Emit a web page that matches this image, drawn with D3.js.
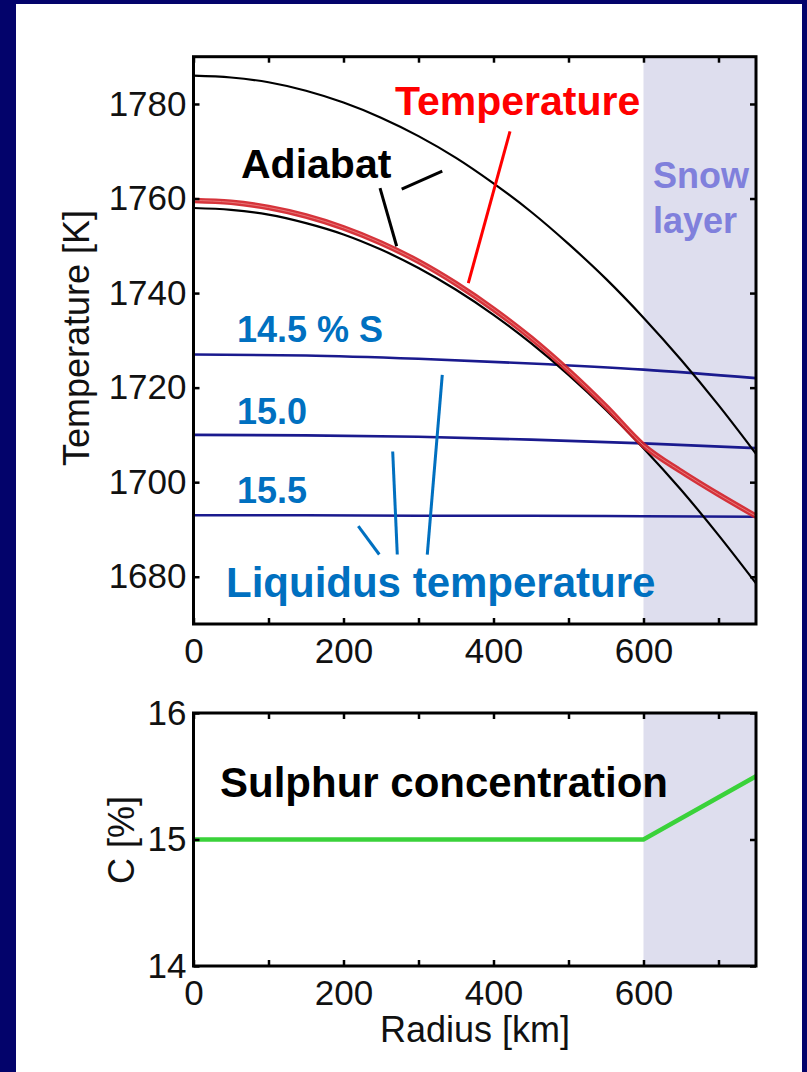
<!DOCTYPE html>
<html>
<head>
<meta charset="utf-8">
<script src="https://cdn.jsdelivr.net/npm/d3@7"></script>
<style>
  html, body { margin: 0; padding: 0; background: #03036b; }
  svg { display: block; }
  text { font-family: "Liberation Sans", Arial, sans-serif; }
</style>
</head>
<body>
<svg id="fig" width="807" height="1072"></svg>
<script>
// Radius samples (km) for the temperature profiles
const radius = [0, 50, 100, 150, 200, 250, 300, 350, 400, 450, 500, 550, 600, 650, 700, 750];
// Adiabat starting hotter in the centre
const adiabatUpper = [1786.0, 1785.6, 1784.6, 1782.8, 1780.3, 1777.1, 1773.2, 1768.6, 1763.2, 1757.2, 1750.4, 1743.0, 1734.8, 1725.9, 1716.3, 1706.0];
// Adiabat through the present core temperature
const adiabatLower = [1758.0, 1757.6, 1756.6, 1754.8, 1752.4, 1749.2, 1745.3, 1740.7, 1735.4, 1729.4, 1722.7, 1715.3, 1707.2, 1698.4, 1688.8, 1678.6];
// Core temperature profile
const temperature = [1759.6, 1759.2, 1758.1, 1756.3, 1753.8, 1750.6, 1746.7, 1742.0, 1736.6, 1730.5, 1723.6, 1716.0, 1707.8, 1702.3, 1697.4, 1692.8];

// Liquidus curves for three sulphur contents
const liqRadius = [0, 150, 300, 450, 600, 750];
const liquidus145 = [1727.0, 1726.8, 1726.1, 1725.1, 1723.8, 1722.0];
const liquidus150 = [1710.0, 1709.9, 1709.6, 1709.0, 1708.2, 1707.2];
const liquidus155 = [1693.0, 1693.0, 1692.9, 1692.9, 1692.8, 1692.7];

// Sulphur concentration profile
const concRadius = [0, 600, 750];
const concentration = [15.0, 15.0, 15.5];

// Snow layer extent (km)
const snowLayer = [600, 750];

// Axis ticks
const radiusTicks = [0, 100, 200, 300, 400, 500, 600, 700];
const radiusLabels = [0, 200, 400, 600];
const tempTicks = [1680, 1700, 1720, 1740, 1760, 1780];
const concTicks = [14, 15, 16];

const svg = d3.select("#fig");

// white page inside the navy frame
svg.append("rect").attr("x", 16).attr("y", 4).attr("width", 786).attr("height", 1068).attr("fill", "#ffffff");

const x = d3.scaleLinear().domain([0, 750]).range([193.5, 756]);
const yT = d3.scaleLinear().domain([1670, 1790]).range([624, 56.7]);
const yC = d3.scaleLinear().domain([14, 16]).range([966, 713]);

const shade = "#dedeee";
const tickFont = 35;

function drawFrame(y, yTicks, yFmt) {
  const [y0, y1] = y.range();
  const g = svg.append("g");
  const fmtX = d => radiusLabels.includes(d) ? d : "";
  // bottom
  g.append("g").attr("transform", `translate(0,${y0})`)
    .call(d3.axisBottom(x).tickValues(radiusTicks).tickFormat(fmtX).tickSize(-6).tickSizeOuter(0).tickPadding(14));
  // top
  g.append("g").attr("transform", `translate(0,${y1})`)
    .call(d3.axisTop(x).tickValues(radiusTicks).tickFormat("").tickSize(-6).tickSizeOuter(0));
  // left
  g.append("g").attr("transform", `translate(${x(0)},0)`)
    .call(d3.axisLeft(y).tickValues(yTicks).tickFormat(yFmt).tickSize(-6).tickSizeOuter(0).tickPadding(7));
  // right
  g.append("g").attr("transform", `translate(${x(750)},0)`)
    .call(d3.axisRight(y).tickValues(yTicks).tickFormat("").tickSize(-6).tickSizeOuter(0));
  g.selectAll(".domain").remove();
  g.selectAll(".tick line").attr("stroke", "#000").attr("stroke-width", 2.5);
  g.selectAll(".tick text").attr("font-size", tickFont).attr("fill", "#111")
    .style("font-family", '"Liberation Sans", Arial, sans-serif');
  // box
  g.append("rect").attr("x", x(0)).attr("y", y1).attr("width", x(750) - x(0)).attr("height", y0 - y1)
    .attr("fill", "none").attr("stroke", "#000").attr("stroke-width", 3);
}

// ---------- Temperature panel ----------
svg.append("rect")
  .attr("x", x(snowLayer[0])).attr("y", yT(1790))
  .attr("width", x(snowLayer[1]) - x(snowLayer[0])).attr("height", yT(1670) - yT(1790))
  .attr("fill", shade);

const lineT = (xs, ys) => d3.line().x((d, i) => x(xs[i])).y(d => yT(d)).curve(d3.curveMonotoneX)(ys);

[liquidus145, liquidus150, liquidus155].forEach(s => {
  svg.append("path").attr("d", lineT(liqRadius, s)).attr("fill", "none")
    .attr("stroke", "#1a1a8e").attr("stroke-width", 2.6);
});

[adiabatUpper, adiabatLower].forEach(s => {
  svg.append("path").attr("d", lineT(radius, s)).attr("fill", "none")
    .attr("stroke", "#000").attr("stroke-width", 2.2);
});

svg.append("path").attr("d", lineT(radius, temperature)).attr("fill", "none")
  .attr("stroke", "#d2232a").attr("stroke-width", 5.5).attr("stroke-opacity", 0.92);
svg.append("path").attr("d", lineT(radius, temperature)).attr("fill", "none")
  .attr("stroke", "#e87878").attr("stroke-width", 1);

drawFrame(yT, tempTicks, d => d);

// annotation pointers in data units [r1, T1, r2, T2]
const pointers = [
  { c: "#ff0000", p: [422, 1774.2, 366.4, 1742.1] },
  { c: "#000000", p: [277.6, 1762.0, 331.7, 1765.8] },
  { c: "#000000", p: [248.7, 1762.2, 270.9, 1749.9] },
  { c: "#0070c0", p: [219.7, 1690.7, 247.7, 1684.7] },
  { c: "#0070c0", p: [265.6, 1706.5, 271.7, 1684.7] },
  { c: "#0070c0", p: [331.7, 1722.7, 311.7, 1684.7] }
];
pointers.forEach(d => {
  svg.append("line")
    .attr("x1", x(d.p[0])).attr("y1", yT(d.p[1]))
    .attr("x2", x(d.p[2])).attr("y2", yT(d.p[3]))
    .attr("stroke", d.c).attr("stroke-width", 3);
});

const label = (t, px, py, size, color, weight) =>
  svg.append("text").attr("x", px).attr("y", py).attr("font-size", size)
    .attr("font-weight", weight || "bold").attr("fill", color).text(t);

label("Temperature", 395, 115, 41, "#ff0000");
label("Adiabat", 241, 178, 41, "#000000");
label("Snow", 653, 188, 36, "#8080dc");
label("layer", 653, 233, 36, "#8080dc");
label("14.5 % S", 237, 342, 36, "#0070c0");
label("15.0", 237, 424, 36, "#0070c0");
label("15.5", 237, 503, 36, "#0070c0");
label("Liquidus temperature", 226, 597, 42, "#0070c0");

svg.append("text").attr("transform", "translate(89,338) rotate(-90)")
  .attr("text-anchor", "middle").attr("font-size", 36).attr("fill", "#111").text("Temperature [K]");

// ---------- Sulphur panel ----------
svg.append("rect")
  .attr("x", x(snowLayer[0])).attr("y", yC(16))
  .attr("width", x(snowLayer[1]) - x(snowLayer[0])).attr("height", yC(14) - yC(16))
  .attr("fill", shade);

svg.append("path")
  .attr("d", d3.line().x((d, i) => x(concRadius[i])).y(d => yC(d))(concentration))
  .attr("fill", "none").attr("stroke", "#3ad23a").attr("stroke-width", 4.5);

drawFrame(yC, concTicks, d => d);

label("Sulphur concentration", 220, 797, 42, "#000000");

svg.append("text").attr("transform", "translate(134,840) rotate(-90)")
  .attr("text-anchor", "middle").attr("font-size", 36).attr("fill", "#111").text("C [%]");

svg.append("text").attr("x", 475).attr("y", 1042)
  .attr("text-anchor", "middle").attr("font-size", 36).attr("fill", "#111").text("Radius [km]");
</script>
</body>
</html>
